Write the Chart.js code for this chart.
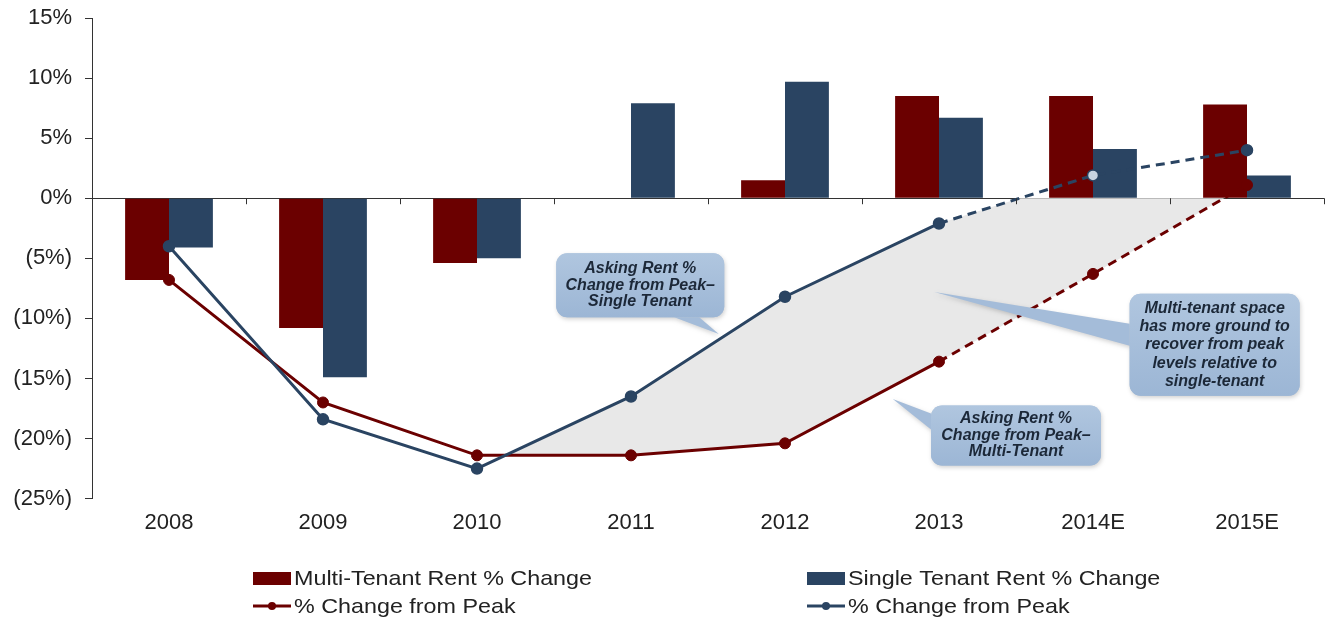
<!DOCTYPE html>
<html>
<head>
<meta charset="utf-8">
<script src="https://cdn.jsdelivr.net/npm/chart.js@4"></script>
<style>
  html, body { margin: 0; padding: 0; background: #fff; }
  #wrap { width: 1331px; height: 625px; }
</style>
</head>
<body>
<div id="wrap"><canvas id="rentChart" width="1331" height="625"></canvas></div>
<script>
const years = ['2008', '2009', '2010', '2011', '2012', '2013', '2014E', '2015E'];
const multiChange = [-6.8, -10.8, -5.4, 0, 1.5, 8.5, 8.5, 7.8];
const singleChange = [-4.1, -14.9, -5.0, 7.9, 9.7, 6.7, 4.1, 1.9];
const multiFromPeak = [-6.8, -17.0, -21.4, -21.4, -20.4, -13.6, -6.3, 1.1];
const singleFromPeak = [-4.0, -18.4, -22.5, -16.5, -8.2, -2.1, 1.9, 4.0];
const yTicks = [15, 10, 5, 0, -5, -10, -15, -20, -25];

const RED = '#6b0000';
const BLUE = '#2a4462';
const FONT = "'Liberation Sans', Arial, sans-serif";

// callouts placed in data coordinates (category index, value)
const callouts = [
  { lines: ['Asking Rent %', 'Change from Peak\u2013', 'Single Tenant'],
    at: [3.06, -7.25], w: 168, h: 64, lh: 16.5, tip: [3.57, -11.3], base: [[118, 0], [143, 0]], side: 'bottom' },
  { lines: ['Multi-tenant space', 'has more ground to', 'recover from peak', 'levels relative to', 'single-tenant'],
    at: [6.79, -12.2], w: 170, h: 102, lh: 18.3, tip: [4.97, -7.8], base: [[0, 30], [0, 52]], side: 'left' },
  { lines: ['Asking Rent %', 'Change from Peak\u2013', 'Multi-Tenant'],
    at: [5.5, -19.75], w: 170, h: 60, lh: 16.5, tip: [4.7, -16.7], base: [[0, 8], [0, 24]], side: 'left' }
];

// grey gap between the two "from peak" lines, below 0%
const gapFill = {
  id: 'gapFill',
  beforeDatasetsDraw(chart) {
    const { ctx, chartArea, scales: { x, y } } = chart;
    const d0 = singleFromPeak[2] - multiFromPeak[2];
    const d1 = singleFromPeak[3] - multiFromPeak[3];
    const startX = x.getPixelForValue(2) + (x.getPixelForValue(3) - x.getPixelForValue(2)) * (-d0 / (d1 - d0));
    const zero = y.getPixelForValue(0);
    ctx.save();
    ctx.beginPath();
    ctx.rect(startX, zero, chartArea.right - startX, chartArea.bottom - zero);
    ctx.clip();
    ctx.beginPath();
    for (let i = 2; i < years.length; i++) ctx.lineTo(x.getPixelForValue(i), y.getPixelForValue(singleFromPeak[i]));
    for (let i = years.length - 1; i >= 2; i--) ctx.lineTo(x.getPixelForValue(i), y.getPixelForValue(multiFromPeak[i]));
    ctx.closePath();
    ctx.fillStyle = '#e8e8e8';
    ctx.fill();
    ctx.restore();
  }
};

// small tick marks on the 0% line between categories
const zeroTicks = {
  id: 'zeroTicks',
  afterDatasetsDraw(chart) {
    const { ctx, scales: { x, y } } = chart;
    const zero = y.getPixelForValue(0);
    ctx.save();
    ctx.strokeStyle = '#333';
    ctx.lineWidth = 1;
    for (let i = 1; i <= years.length; i++) {
      const px = Math.round(x.getPixelForValue(i - 0.5)) + 0.5;
      ctx.beginPath();
      ctx.moveTo(px, zero);
      ctx.lineTo(px, zero + 6);
      ctx.stroke();
    }
    ctx.restore();
  }
};

const calloutPlugin = {
  id: 'callouts',
  afterDatasetsDraw(chart) {
    const { ctx, scales: { x, y } } = chart;
    callouts.forEach(c => {
      const cx = x.getPixelForValue(c.at[0]);
      const cy = y.getPixelForValue(c.at[1]);
      const left = cx - c.w / 2, top = cy - c.h / 2;
      const tx = x.getPixelForValue(c.tip[0]);
      const ty = y.getPixelForValue(c.tip[1]);
      const b1 = c.side === 'bottom' ? [left + c.base[0][0], top + c.h] : [left, top + c.base[0][1]];
      const b2 = c.side === 'bottom' ? [left + c.base[1][0], top + c.h] : [left, top + c.base[1][1]];
      ctx.save();
      ctx.shadowColor = 'rgba(0,0,0,0.18)';
      ctx.shadowBlur = 4;
      ctx.shadowOffsetX = 1;
      ctx.shadowOffsetY = 2;
      const g = ctx.createLinearGradient(0, top, 0, top + c.h);
      g.addColorStop(0, '#b0c6df');
      g.addColorStop(1, '#9cb6d5');
      ctx.fillStyle = g;
      ctx.beginPath();
      ctx.roundRect(left, top, c.w, c.h, 11);
      ctx.fill();
      ctx.beginPath();
      ctx.moveTo(b1[0], b1[1]);
      ctx.lineTo(tx, ty);
      ctx.lineTo(b2[0], b2[1]);
      ctx.closePath();
      ctx.fillStyle = '#a4bcd9';
      ctx.fill();
      ctx.shadowColor = 'transparent';
      ctx.beginPath();
      ctx.roundRect(left, top, c.w, c.h, 11);
      ctx.fillStyle = g;
      ctx.fill();
      ctx.fillStyle = '#1c2838';
      ctx.font = "italic bold 16px " + FONT;
      ctx.textAlign = 'center';
      ctx.textBaseline = 'middle';
      const first = cy - (c.lines.length - 1) * c.lh / 2;
      c.lines.forEach((t, i) => ctx.fillText(t, cx, first + i * c.lh));
      ctx.restore();
    });
  }
};

// two-column legend under the axis
const bottomLegend = {
  id: 'bottomLegend',
  afterDraw(chart) {
    const { ctx } = chart;
    const cols = [253, 807];
    const rows = [578, 606];
    ctx.save();
    ctx.font = '21px ' + FONT;
    ctx.textBaseline = 'middle';
    chart.data.datasets.forEach((ds, i) => {
      const lx = cols[i % 2];
      const ly = rows[Math.floor(i / 2)];
      if (ds.type === 'bar') {
        ctx.fillStyle = ds.backgroundColor;
        ctx.fillRect(lx, ly - 6, 38, 13);
      } else {
        ctx.strokeStyle = ds.borderColor;
        ctx.lineWidth = 3;
        ctx.beginPath();
        ctx.moveTo(lx, ly);
        ctx.lineTo(lx + 38, ly);
        ctx.stroke();
        ctx.fillStyle = ds.borderColor;
        ctx.beginPath();
        ctx.arc(lx + 19, ly, 4, 0, Math.PI * 2);
        ctx.fill();
      }
      ctx.fillStyle = '#222';
      ctx.save();
      ctx.translate(lx + 41, ly + 1);
      ctx.scale(1.11, 1);
      ctx.fillText(ds.label, 0, 0);
      ctx.restore();
    });
    ctx.restore();
  }
};

const dashAfter2013 = ctx => ctx.p0DataIndex >= 5 ? [9, 6] : undefined;

new Chart(document.getElementById('rentChart'), {
  data: {
    labels: years,
    datasets: [
      { type: 'bar', label: 'Multi-Tenant Rent % Change', data: multiChange,
        backgroundColor: RED, categoryPercentage: 0.57, barPercentage: 1, order: 2 },
      { type: 'bar', label: 'Single Tenant Rent % Change', data: singleChange,
        backgroundColor: BLUE, categoryPercentage: 0.57, barPercentage: 1, order: 2 },
      { type: 'line', label: '% Change from Peak', data: multiFromPeak,
        borderColor: RED, backgroundColor: RED, borderWidth: 3,
        pointRadius: 5.5, pointBackgroundColor: RED, pointBorderColor: RED, pointBorderWidth: 1,
        segment: { borderDash: dashAfter2013 }, order: 1 },
      { type: 'line', label: '% Change from Peak', data: singleFromPeak,
        borderColor: BLUE, backgroundColor: BLUE, borderWidth: 3,
        pointRadius: 5.5, pointBorderColor: BLUE, pointBorderWidth: 1.5,
        pointBackgroundColor: years.map((_, i) => i === 6 ? '#c9d4e0' : BLUE),
        segment: { borderDash: dashAfter2013 }, order: 0 }
    ]
  },
  options: {
    responsive: false,
    animation: false,
    layout: { padding: { top: 18, right: 3, bottom: 78, left: 0 } },
    plugins: { legend: { display: false }, tooltip: { enabled: false } },
    scales: {
      x: {
        grid: { display: false, drawTicks: false },
        border: { display: false },
        ticks: { color: '#222', font: { size: 22, family: FONT }, padding: 11 }
      },
      y: {
        min: -25, max: 15,
        afterBuildTicks: s => { s.ticks = yTicks.map(v => ({ value: v })); },
        afterFit: s => { s.width = 92; s.paddingTop = 0; s.paddingBottom = 0; },
        border: { display: true, color: '#333', width: 1 },
        grid: {
          color: c => c.tick && c.tick.value === 0 ? '#333' : 'transparent',
          tickColor: '#333', tickLength: 7, lineWidth: 1
        },
        ticks: {
          color: '#222', font: { size: 22, family: FONT }, padding: 13,
          callback: v => v < 0 ? '(' + (-v) + '%)' : v + '%'
        }
      }
    }
  },
  plugins: [gapFill, zeroTicks, calloutPlugin, bottomLegend]
});
</script>
</body>
</html>
